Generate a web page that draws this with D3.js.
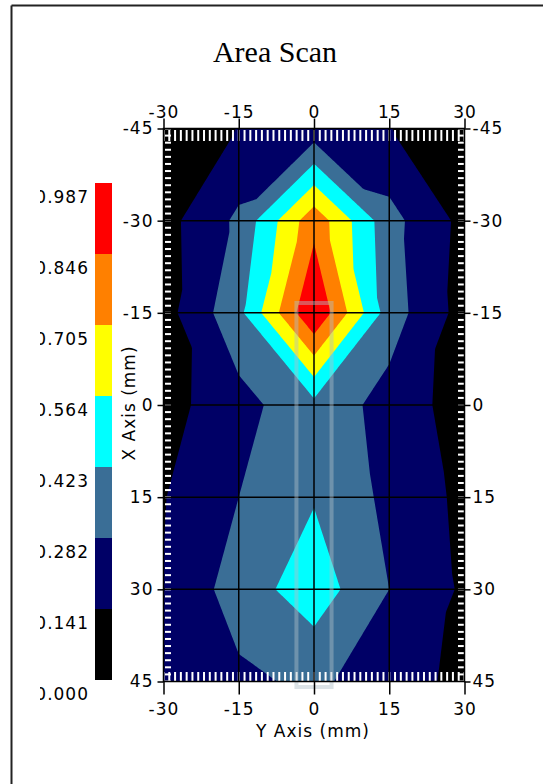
<!DOCTYPE html>
<html>
<head>
<meta charset="utf-8">
<script src="https://cdn.jsdelivr.net/npm/d3@7"></script>
<style>
body{margin:0;background:#fff;}
svg text{font-family:"DejaVu Sans",sans-serif;font-size:17px;letter-spacing:1px;fill:#000;}
</style>
</head>
<body>
<svg class="chart" width="543" height="784"></svg>
<script>
// puntos de la rejilla de medicion (mm)
var xPos = [-30, -15, 0, 15, 30];
var yPos = [-45, -30, -15, 0, 15, 30, 45];
var amp_m45 = [0.050, 0.145, 0.190, 0.145, 0.050];
var amp_m30 = [0.090, 0.310, 0.800, 0.330, 0.100];
var amp_m15 = [0.085, 0.384, 0.987, 0.350, 0.085];
var amp_0   = [0.088, 0.233, 0.380, 0.228, 0.076];
var amp_15  = [0.135, 0.282, 0.413, 0.248, 0.108];
var amp_30  = [0.145, 0.350, 0.500, 0.282, 0.120];
var amp_45  = [0.140, 0.253, 0.310, 0.205, 0.105];
var amplitud = [amp_m45, amp_m30, amp_m15, amp_0, amp_15, amp_30, amp_45];

// niveles de la escala de color
var niveles = [0.000, 0.141, 0.282, 0.423, 0.564, 0.705, 0.846, 0.987];
var colores = ['#000000', '#000066', '#3a6e96', '#00ffff', '#ffff00', '#ff8000', '#ff0000'];
var xTicks = [-30, -15, 0, 15, 30];
var yTicks = [-45, -30, -15, 0, 15, 30, 45];
var sonda = {x: [-3.5, 3.5], y: [-16.6, 45.9]}; // huella del palpador

var svg = d3.select(".chart");

var x = d3.scaleLinear().domain([-30, 30]).range([163.5, 464.5]);
var y = d3.scaleLinear().domain([-45, 45]).range([128.5, 681.5]);

/* interpolacion lineal por triangulos dentro de cada celda */
function valor(xm, ym){
  var dx = xPos[1] - xPos[0], dy = yPos[1] - yPos[0];
  var i = Math.max(0, Math.min(xPos.length - 2, Math.floor((xm - xPos[0]) / dx)));
  var j = Math.max(0, Math.min(yPos.length - 2, Math.floor((ym - yPos[0]) / dy)));
  var u = (xm - xPos[i]) / dx, v = (ym - yPos[j]) / dy;
  var a = amplitud[j][i], b = amplitud[j][i+1], c = amplitud[j+1][i], d = amplitud[j+1][i+1];
  if (Math.abs(b - c) <= Math.abs(a - d)) {
    if (u + v <= 1) return a + u*(b - a) + v*(c - a);
    return d + (1 - u)*(c - d) + (1 - v)*(b - d);
  }
  if (u >= v) return a + u*(b - a) + v*(d - b);
  return a + v*(c - a) + u*(d - c);
}

var paso = 0.25;
var nx = Math.round(60 / paso) + 1, ny = Math.round(90 / paso) + 1;
var valores = new Array(nx * ny);
for (var gj = 0; gj < ny; gj++)
  for (var gi = 0; gi < nx; gi++)
    valores[gj*nx + gi] = valor(-30 + gi*paso, -45 + gj*paso);

var contornos = d3.contours().size([nx, ny]).thresholds(niveles.slice(1, 7))(valores);
var path = d3.geoPath(d3.geoTransform({
  point: function(gx, gy){
    this.stream.point(x(-30 + (gx - 0.5)*paso), y(-45 + (gy - 0.5)*paso));
  }
}));

/* marco exterior */
svg.append("line").attr("x1", 11.5).attr("x2", 543).attr("y1", 5.5).attr("y2", 5.5)
  .attr("stroke", "#222").attr("stroke-width", 2);
svg.append("line").attr("x1", 11.5).attr("x2", 11.5).attr("y1", 5.5).attr("y2", 784)
  .attr("stroke", "#222").attr("stroke-width", 2);

svg.append("text").attr("x", 275).attr("y", 62).attr("text-anchor", "middle")
  .style("font-family", "'Liberation Serif',serif").style("font-size", "30px").style("letter-spacing", "0px")
  .text("Area Scan");

/* area de la grafica */
svg.append("clipPath").attr("id", "clip").append("rect")
  .attr("x", x(-30)).attr("y", y(-45)).attr("width", x(30) - x(-30)).attr("height", y(45) - y(-45));

var plot = svg.append("g").attr("clip-path", "url(#clip)");
plot.append("rect").attr("x", x(-30)).attr("y", y(-45))
  .attr("width", x(30) - x(-30)).attr("height", y(45) - y(-45)).attr("fill", colores[0]);
plot.selectAll("path.banda").data(contornos).enter().append("path")
  .classed("banda", true)
  .attr("d", path)
  .attr("fill", (d, k) => colores[k + 1]);

/* reglas blancas en los bordes */
var nTop = 52, nSide = 78;
var rx = d3.range(nTop + 1).map(k => -30 + k*60/nTop);
var ry = d3.range(nSide + 1).map(k => -45 + k*90/nSide);
plot.selectAll("rect.rt").data(rx).enter().append("rect").classed("rt", true)
  .attr("x", d => x(d) - 1).attr("y", 130).attr("width", 2).attr("height", 11).attr("fill", "#fff");
plot.selectAll("rect.rb").data(rx).enter().append("rect").classed("rb", true)
  .attr("x", d => x(d) - 1).attr("y", 672).attr("width", 2).attr("height", 9).attr("fill", "#fff");
plot.selectAll("rect.rl").data(ry).enter().append("rect").classed("rl", true)
  .attr("x", 165).attr("y", d => y(d) - 1).attr("width", 6).attr("height", 2).attr("fill", "#fff");
plot.selectAll("rect.rr").data(ry).enter().append("rect").classed("rr", true)
  .attr("x", 458).attr("y", d => y(d) - 1).attr("width", 6).attr("height", 2).attr("fill", "#fff");

/* rejilla */
plot.selectAll("line.gx").data(xTicks.slice(1, -1)).enter().append("line").classed("gx", true)
  .attr("x1", d => x(d)).attr("x2", d => x(d)).attr("y1", y(-45)).attr("y2", y(45))
  .attr("stroke", "#000").attr("stroke-width", 1.5);
plot.selectAll("line.gy").data(yTicks.slice(1, -1)).enter().append("line").classed("gy", true)
  .attr("x1", x(-30)).attr("x2", x(30)).attr("y1", d => y(d)).attr("y2", d => y(d))
  .attr("stroke", "#000").attr("stroke-width", 1.5);

/* palpador */
svg.append("rect")
  .attr("x", x(sonda.x[0])).attr("y", y(sonda.y[0]))
  .attr("width", x(sonda.x[1]) - x(sonda.x[0])).attr("height", y(sonda.y[1]) - y(sonda.y[0]))
  .attr("fill", "none").attr("stroke", "rgba(175,190,200,0.45)").attr("stroke-width", 4);

svg.append("rect").attr("x", x(-30)).attr("y", y(-45))
  .attr("width", x(30) - x(-30)).attr("height", y(45) - y(-45))
  .attr("fill", "none").attr("stroke", "#000").attr("stroke-width", 1.5);

/* ejes */
var fmt = d => String(d);
function limpiar(g){ g.select(".domain").remove(); g.selectAll("line").attr("stroke", "#000").attr("stroke-width", 1.5); g.selectAll("text").attr("font-family", null).attr("font-size", null); }
svg.append("g").attr("transform", "translate(" + x(-30) + ",0)")
  .call(d3.axisLeft(y).tickValues(yTicks).tickFormat(fmt).tickSize(6).tickPadding(4)).call(limpiar);
svg.append("g").attr("transform", "translate(" + x(30) + ",0)")
  .call(d3.axisRight(y).tickValues(yTicks).tickFormat(fmt).tickSize(6).tickPadding(2)).call(limpiar);
svg.append("g").attr("transform", "translate(0," + y(-45) + ")")
  .call(d3.axisTop(x).tickValues(xTicks).tickFormat(fmt).tickSize(10).tickPadding(1)).call(limpiar);
svg.append("g").attr("transform", "translate(0," + y(45) + ")")
  .call(d3.axisBottom(x).tickValues(xTicks).tickFormat(fmt).tickSize(13).tickPadding(8)).call(limpiar);

svg.append("text").attr("transform", "translate(135,403) rotate(-90)")
  .attr("text-anchor", "middle").text("X Axis (mm)");
svg.append("text").attr("x", 313).attr("y", 737)
  .attr("text-anchor", "middle").text("Y Axis (mm)");

/* leyenda */
var yl = d3.scaleLinear().domain([0, 0.987]).range([680, 183]);
svg.selectAll("rect.ley").data(colores).enter().append("rect").classed("ley", true)
  .attr("x", 95).attr("width", 17)
  .attr("y", (d, k) => yl(niveles[k + 1]))
  .attr("height", (d, k) => yl(niveles[k]) - yl(niveles[k + 1]))
  .attr("fill", d => d);
svg.append("clipPath").attr("id", "clipLey").append("rect")
  .attr("x", 40).attr("y", 150).attr("width", 60).attr("height", 600);
svg.append("g").attr("clip-path", "url(#clipLey)")
  .selectAll("text").data(niveles).enter().append("text")
  .attr("x", 89).attr("y", d => yl(d) + 20).attr("text-anchor", "end")
  .text(d => d3.format(".3f")(d));
</script>
</body>
</html>
